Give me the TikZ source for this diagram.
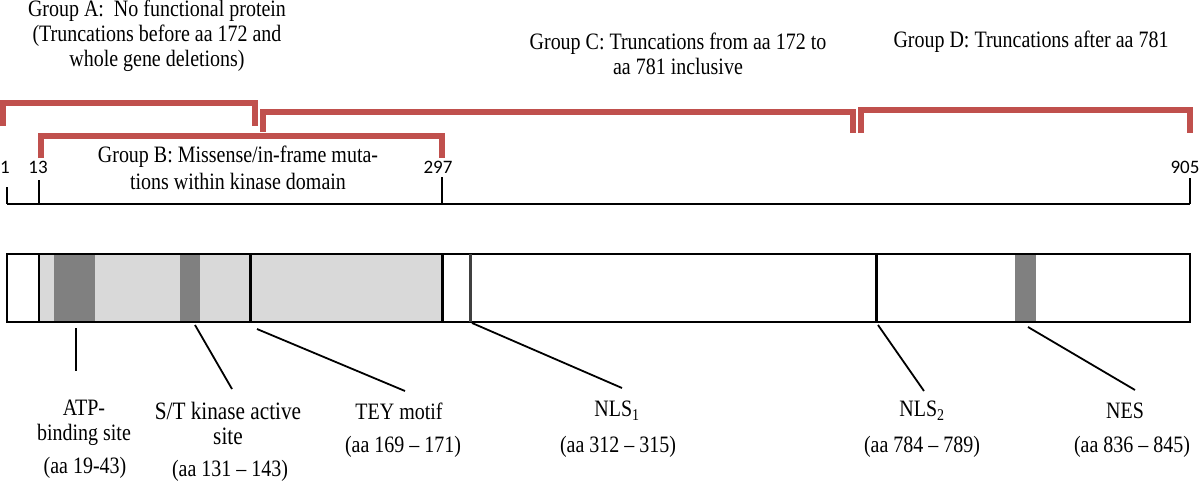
\documentclass[tikz,border=0pt]{standalone}
\usepackage{fontspec}
\setmainfont{Liberation Serif}[FakeStretch=0.85]
\newfontfamily\numfont{Carlito}
\definecolor{grpred}{HTML}{C0504D}
\definecolor{kinase}{HTML}{D9D9D9}
\definecolor{motif}{HTML}{808080}
\definecolor{nlsgray}{HTML}{404040}
\begin{document}
\begin{tikzpicture}[x=1pt,y=-1pt,
  lbl/.style={inner sep=0pt,align=center,font=\fontsize{23.5}{25}\selectfont},
  num/.style={inner sep=0pt,font=\numfont\fontsize{19}{22}\selectfont},
  bracket/.style={draw=grpred,line width=6pt,line join=miter},
  callout/.style={draw=black,line width=1.8pt},
  divider/.style={draw=black,line width=3pt},
  tick/.style={draw=black,line width=1.8pt}]
\useasboundingbox (0,0) rectangle (1200,482);
% group texts
\node[lbl] (gA) at (157,36) {Group A:\ \ No functional protein\\(Truncations before aa 172 and\\whole gene deletions)};
\node[lbl] (gC) at (678,54) {Group C: Truncations from aa 172 to\\aa 781 inclusive};
\node[lbl] (gD) at (1031,42) {Group D: Truncations after aa 781};
\node[lbl,font=\fontsize{23.5}{27}\selectfont] (gB) at (238,168) {Group B: Missense/in-frame muta-\\tions within kinase domain};
% brackets
\draw[bracket] (3,126) -- (3,103) -- (255,103) -- (255,126);
\draw[bracket] (263,132) -- (263,112) -- (853,112) -- (853,133);
\draw[bracket] (861,133) -- (861,110) -- (1190,110) -- (1190,133);
\draw[bracket] (41,158) -- (41,136) -- (442,136) -- (442,158);
% scale
\coordinate (s1) at (7,204);
\coordinate (s905) at (1190,204);
\draw[tick] (s1) -- (s905);
\draw[tick] (7,187) -- (7,204);
\draw[tick] (39,180) -- (39,204);
\draw[tick] (442,177) -- (442,204);
\draw[tick] (1190,178) -- (1190,204);
\node[num] (n1) at (5,167) {1};
\node[num] (n13) at (38,167) {13};
\node[num] (n297) at (438,167) {297};
\node[num] (n905) at (1185,167) {905};
% protein
\fill[kinase] (39,254) rectangle (442,322);
\fill[motif] (54,254) rectangle (95,322);
\fill[motif] (180,254) rectangle (200,322);
\fill[motif] (1015,254) rectangle (1036,322);
\draw[black,line width=2.5pt] (7,254) rectangle (1190,322);
\draw[black,line width=1.8pt] (39,254) -- (39,322);
\draw[divider] (250,254) -- (250,322);
\draw[divider] (442,254) -- (442,322);
\draw[divider,draw=nlsgray] (470,254) -- (470,322);
\draw[divider] (876,254) -- (876,322);
% feature labels
\node[lbl] (atp) at (84,423) {ATP-\\binding site};
\node[lbl] (atpaa) at (85,468) {(aa 19-43)};
\node[lbl,font=\fontsize{25}{25}\selectfont] (st) at (228,423) {S/T kinase active\\site};
\node[lbl] (staa) at (230,471) {(aa 131 – 143)};
\node[lbl] (tey) at (399,411) {TEY motif};
\node[lbl] (teyaa) at (403,447) {(aa 169 – 171)};
\node[lbl] (nls1) at (617,411) {NLS\textsubscript{1}};
\node[lbl] (nls1aa) at (618,447) {(aa 312 – 315)};
\node[lbl] (nls2) at (922,411) {NLS\textsubscript{2}};
\node[lbl] (nls2aa) at (922,447) {(aa 784 – 789)};
\node[lbl] (nes) at (1125,411) {NES};
\node[lbl] (nesaa) at (1132,447) {(aa 836 – 845)};
% callout coordinates
\coordinate (atpT) at (76,328); \coordinate (atpB) at (76,371);
\coordinate (stT) at (195,325); \coordinate (stB) at (232,389);
\coordinate (teyT) at (257,329); \coordinate (teyB) at (405,391);
\coordinate (nls1T) at (472,323); \coordinate (nls1B) at (622,388);
\coordinate (nls2T) at (878,325); \coordinate (nls2B) at (924,391);
\coordinate (nesT) at (1028,327); \coordinate (nesB) at (1135,390);
\draw[callout] (atpT) -- (atpB);
\draw[callout] (stT) -- (stB);
\draw[callout] (teyT) -- (teyB);
\draw[callout] (nls1T) -- (nls1B);
\draw[callout] (nls2T) -- (nls2B);
\draw[callout] (nesT) -- (nesB);
\end{tikzpicture}
\end{document}
